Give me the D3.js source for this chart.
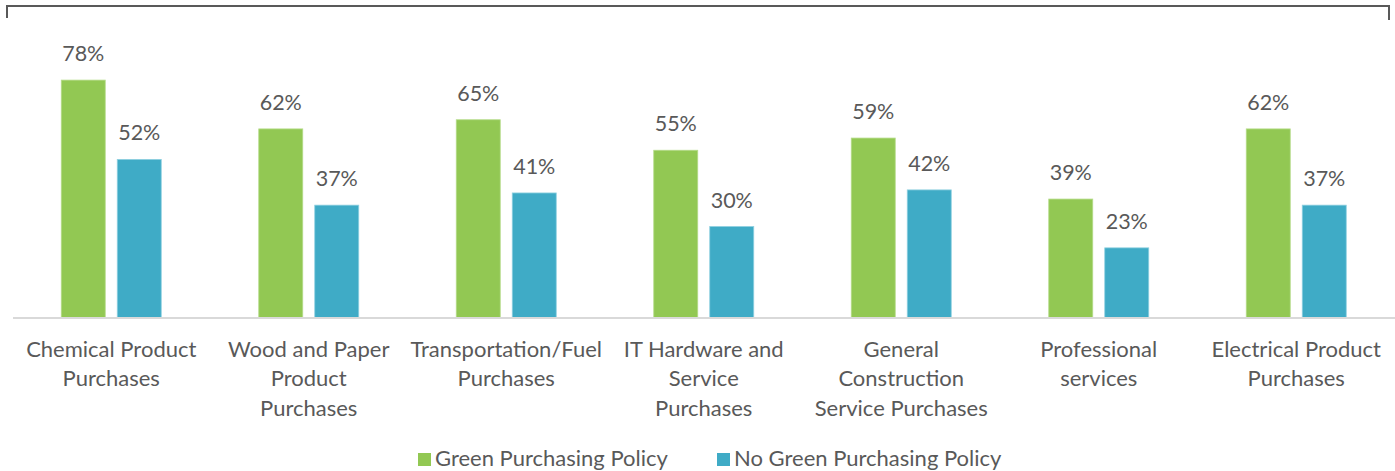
<!DOCTYPE html>
<html>
<head>
<meta charset="utf-8">
<script src="https://cdn.jsdelivr.net/npm/d3@7"></script>
<style>
  body { margin: 0; background: #fff; }
  text { font-family: Lato, "Open Sans", sans-serif; fill: #595959; }
</style>
</head>
<body>
<div id="chart"></div>
<script>
const categories = [
    "Chemical Product Purchases",
    "Wood and Paper Product Purchases",
    "Transportation/Fuel Purchases",
    "IT Hardware and Service Purchases",
    "General Construction Service Purchases",
    "Professional services",
    "Electrical Product Purchases"
];
// tick label lines as wrapped in the picture
const tickLines = [
    ["Chemical Product", "Purchases"],
    ["Wood and Paper", "Product", "Purchases"],
    ["Transportation/Fuel", "Purchases"],
    ["IT Hardware and", "Service", "Purchases"],
    ["General", "Construction", "Service Purchases"],
    ["Professional", "services"],
    ["Electrical Product", "Purchases"]
];
const series = ["Green Purchasing Policy", "No Green Purchasing Policy"];
const greenValues = [78, 62, 65, 55, 59, 39, 62];
const noGreenValues = [52, 37, 41, 30, 42, 23, 37];
const colors = ["#92c853", "#3fabc6"];

const width = 1395, height = 471;

const svg = d3.select("#chart")
    .append("svg")
    .attr("width", width)
    .attr("height", height);

const x0 = d3.scaleBand()
    .domain(categories)
    .range([12.5, 1395]);

const x1 = d3.scaleBand()
    .domain(series)
    .range([-50, 50])
    .paddingInner(0.2143);

const y = d3.scaleLinear()
    .domain([0, 100])
    .range([318, 13]);

// frame at the top
svg.append("path")
    .attr("d", "M7,18V6H1389V20")
    .attr("fill", "none")
    .attr("stroke", "#595959")
    .attr("stroke-width", 2);

const rows = categories.map((c, i) => ({
    cat: c,
    vals: [greenValues[i], noGreenValues[i]]
}));

const group = svg.append("g")
    .selectAll("g")
    .data(rows)
    .join("g")
    .attr("transform", d => `translate(${x0(d.cat) + x0.bandwidth() / 2},0)`);

group.selectAll("rect")
    .data(d => d.vals.map((v, j) => ({ s: series[j], v: v, j: j })))
    .join("rect")
    .attr("x", d => x1(d.s))
    .attr("y", d => y(d.v))
    .attr("width", x1.bandwidth())
    .attr("height", d => y(0) - y(d.v))
    .attr("fill", d => colors[d.j])
    .attr("stroke", d => d.j === 0 ? "#b5dc8a" : "#8fd0e0")
    .attr("stroke-width", 0.8);

group.selectAll("text.val")
    .data(d => d.vals.map((v, j) => ({ s: series[j], v: v })))
    .join("text")
    .attr("class", "val")
    .attr("x", d => x1(d.s) + x1.bandwidth() / 2)
    .attr("y", d => y(d.v) - 19)
    .attr("text-anchor", "middle")
    .attr("font-size", 21.5)
    .text(d => d.v + "%");

// baseline
svg.append("line")
    .attr("x1", 13).attr("x2", width)
    .attr("y1", y(0)).attr("y2", y(0))
    .attr("stroke", "#d9d9d9")
    .attr("stroke-width", 2);

// category labels
const labels = svg.append("g")
    .selectAll("text")
    .data(categories)
    .join("text")
    .attr("x", d => x0(d) + x0.bandwidth() / 2)
    .attr("y", 357)
    .attr("text-anchor", "middle")
    .attr("font-size", 22);

labels.selectAll("tspan")
    .data((d, i) => tickLines[i])
    .join("tspan")
    .attr("x", function () { return this.parentNode.getAttribute("x"); })
    .attr("dy", (d, i) => i === 0 ? 0 : 29.3)
    .text(d => d);

// legend
const legendX = [418, 717];
const legend = svg.append("g")
    .selectAll("g")
    .data(series)
    .join("g")
    .attr("transform", (d, i) => `translate(${legendX[i]},0)`);

legend.append("rect")
    .attr("x", 0).attr("y", 453)
    .attr("width", 13).attr("height", 13)
    .attr("fill", (d, i) => colors[i]);

legend.append("text")
    .attr("x", 17)
    .attr("y", 466)
    .attr("font-size", 22)
    .text(d => d);
</script>
</body>
</html>
